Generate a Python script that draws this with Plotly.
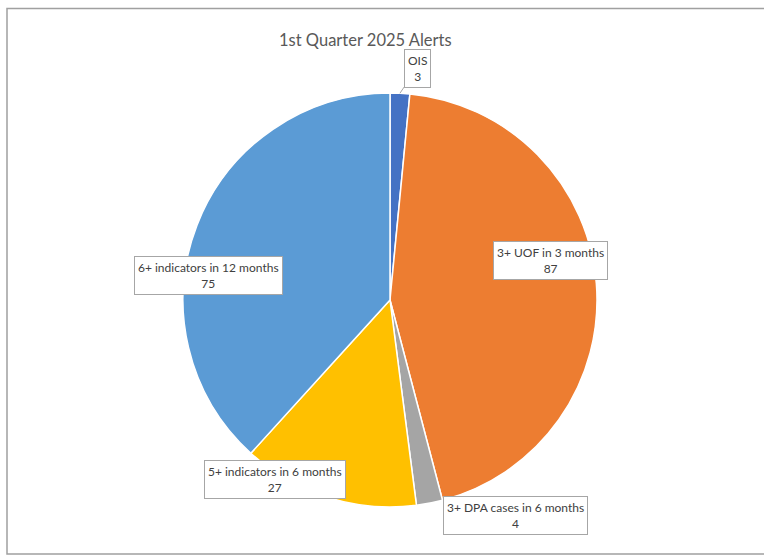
import math
import plotly.graph_objects as go

categories = ["OIS", "3+ UOF in 3 months", "3+ DPA cases in 6 months",
              "5+ indicators in 6 months", "6+ indicators in 12 months"]
values = [3, 87, 4, 27, 75]
colors = ["#4472C4", "#ED7D31", "#A5A5A5", "#FFC000", "#5B9BD5"]

W, H = 764, 556
cx, cy, R = 390, 300, 207

# label box centres in pixels (layout)
label_pos = [(417, 68), (550, 260), (515, 515), (275, 479), (208, 275)]
leader = [True, False, False, False, False]

fig = go.Figure(go.Pie(
    labels=categories, values=values, sort=False, direction="clockwise",
    rotation=0, marker=dict(colors=colors, line=dict(color="white", width=1.5)),
    textinfo="none", hoverinfo="label+value", showlegend=False,
    domain=dict(x=[(cx - R) / W, (cx + R) / W], y=[1 - (cy + R) / H, 1 - (cy - R) / H]),
))

total = sum(values)
cum = 0
annotations = []
for cat, v, (lx, ly), ld in zip(categories, values, label_pos, leader):
    mid = (cum + v / 2) / total * 2 * math.pi
    cum += v
    txt = f"{cat}<br>{v}"
    common = dict(text=txt, font=dict(family="Lato", size=12, color="#404040"),
                  bgcolor="white", bordercolor="#A6A6A6", borderwidth=1, borderpad=3,
                  align="center")
    if ld:
        ex = cx + R * math.sin(mid)
        ey = cy - R * math.cos(mid)
        annotations.append(dict(x=ex / W, y=1 - ey / H, xref="paper", yref="paper",
                                ax=lx - ex, ay=ly - ey, showarrow=True, arrowhead=0,
                                arrowwidth=1, arrowcolor="#A6A6A6", standoff=0, **common))
    else:
        annotations.append(dict(x=lx / W, y=1 - ly / H, xref="paper", yref="paper",
                                showarrow=False, xanchor="center", yanchor="middle", **common))

annotations.append(dict(text="1st Quarter 2025 Alerts", x=365 / W, y=1 - 40 / H,
                        xref="paper", yref="paper", showarrow=False,
                        xanchor="center", yanchor="middle",
                        font=dict(family="Lato", size=16.5, color="#595959")))

fig.update_layout(
    width=W, height=H, margin=dict(l=0, r=0, t=0, b=0),
    paper_bgcolor="white", plot_bgcolor="white",
    annotations=annotations,
    shapes=[dict(type="rect", xref="paper", yref="paper",
                 x0=7 / W, x1=1.05, y0=1 - 554 / H, y1=1 - 8.5 / H,
                 line=dict(color="#A0A0A0", width=1.5), fillcolor="rgba(0,0,0,0)")],
)

fig.write_html("out.html", config={"displayModeBar": False},
               post_script="document.body.style.margin='0';document.body.style.overflow='hidden';")
